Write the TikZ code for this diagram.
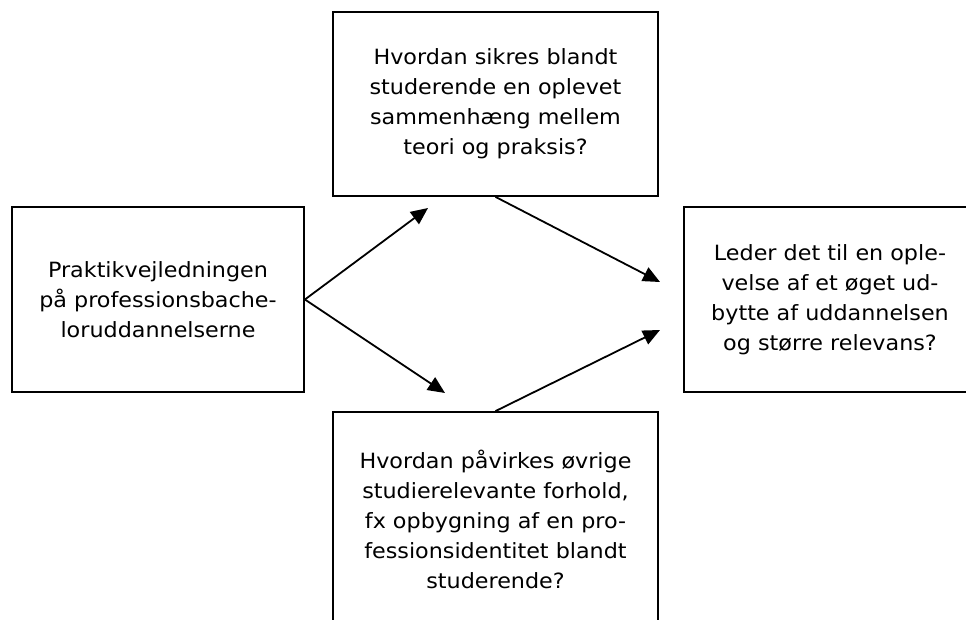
\documentclass[tikz,border=0pt]{standalone}
\usepackage{fontspec}
\setmainfont{DejaVu Sans}[FakeStretch=1.06]
\usetikzlibrary{arrows.meta}

\begin{document}
\begin{tikzpicture}[x=1pt, y=-1pt,
    box/.style = {draw, line width=1.8pt, align=center, inner sep=0pt, font=\fontsize{21}{30}\selectfont},
    arr/.style = {line width=1.8pt, -{Triangle[length=17pt, width=15pt]}}]
        \useasboundingbox (0,0) rectangle (966,620);
        \node[box, minimum width=292pt, minimum height=185pt] (prakt) at (158,299.5) {Praktikvejledningen\\på professionsbache-\\loruddannelserne};
        \node[box, minimum width=325pt, minimum height=184pt] (sikres) at (495.5,104) {Hvordan sikres blandt\\studerende en oplevet\\sammenhæng mellem\\teori og praksis?};
        \node[box, minimum width=325pt, minimum height=214pt] (paavirk) at (495.5,519) {Hvordan påvirkes øvrige\\studierelevante forhold,\\fx opbygning af en pro-\\fessionsidentitet blandt\\studerende?};
        \node[box, minimum width=292pt, minimum height=185pt] (leder) at (830,299.5) {Leder det til en ople-\\velse af et øget ud-\\bytte af uddannelsen\\og større relevans?};
        \coordinate (t1) at (428,208);
        \coordinate (t2) at (445,393);
        \coordinate (t3) at (660,282);
        \coordinate (t4) at (660,330);
        \draw[arr] (prakt.east) -- (t1);
        \draw[arr] (prakt.east) -- (t2);
        \draw[arr] (sikres.south) -- (t3);
        \draw[arr] (paavirk.north) -- (t4);
      \end{tikzpicture}
\end{document}
